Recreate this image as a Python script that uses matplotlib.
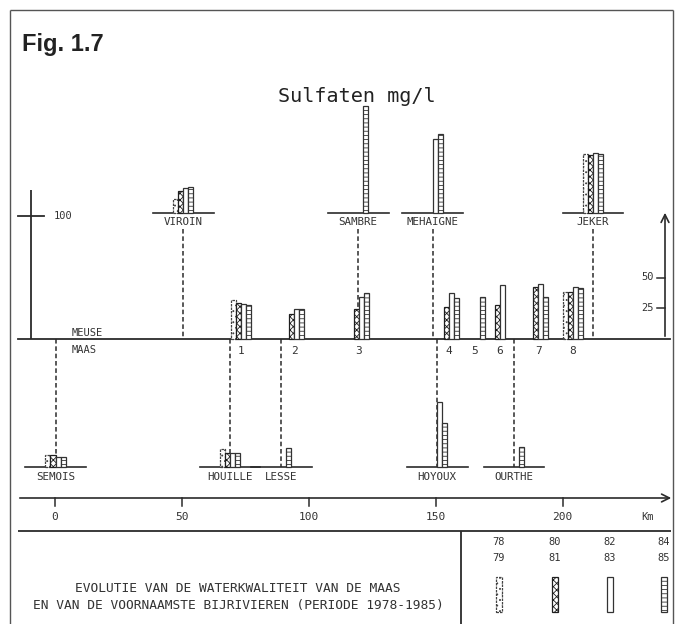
import numpy as np
import matplotlib
matplotlib.use("Agg")
import matplotlib.pyplot as plt

# --- data (sulfaten mg/l, periodes 78/79, 80/81, 82/83, 84/85; nan = geen meting) ---
PERIOD_TOP = ["78", "80", "82", "84"]
PERIOD_BOT = ["79", "81", "83", "85"]

MEUSE_ST = ["1", "2", "3", "4", "5", "6", "7", "8"]
MEUSE_KM = [73.4, 94.3, 119.9, 155.3, 165.6, 175.4, 190.4, 204.1]
MEUSE_VAL = [
    [31.7, 29.3, 28.5, 27.6],
    [np.nan, 20.3, 24.4, 24.4],
    [np.nan, 24.4, 34.0, 37.4],
    [np.nan, 26.0, 37.6, 33.3],
    [np.nan, np.nan, np.nan, 34.4],
    [np.nan, 27.6, 43.9, np.nan],
    [np.nan, 42.5, 44.7, 34.4],
    [38.2, 38.2, 42.3, 41.5],
]

UP_NAMES = ["VIROIN", "SAMBRE", "MEHAIGNE", "JEKER"]
UP_KM = [50.6, 119.5, 149.0, 212.0]
UP_VAL = [
    [11.0, 17.5, 19.9, 20.7],
    [np.nan, np.nan, np.nan, 86.6],
    [np.nan, np.nan, 59.5, 63.6],
    [47.6, 46.7, 48.1, 47.6],
]

LOW_NAMES = ["SEMOIS", "HOUILLE", "LESSE", "HOYOUX", "OURTHE"]
LOW_KM = [0.4, 69.1, 89.2, 150.6, 180.9]
LOW_VAL = [
    [9.8, 9.8, 8.4, 7.9],
    [14.4, 11.6, 11.6, 11.6],
    [np.nan, np.nan, np.nan, 15.2],
    [np.nan, np.nan, 53.1, 35.5],
    [np.nan, np.nan, np.nan, 16.0],
]

KM_TICKS = [0, 50, 100, 150, 200]
RIGHT_TICKS = [25, 50]

# --- layout: pixel <-> data (km, mg/l) ---
X0, PX_KM = 54.5, 2.54
Y0, PX_MG = 339.0, 1.23


def kx(px):
    return (px - X0) / PX_KM


def my(py):
    return (Y0 - py) / PX_MG


UP_BASE = my(212.5)
LOW_BASE = my(467)
BW = 2.0
INK = "#2b2b2b"
TXT = "#333333"
MONO = "DejaVu Sans Mono"

plt.rcParams["hatch.linewidth"] = 0.6
STYLES = [
    dict(hatch="...", edgecolor="#444444", linestyle=(0, (2, 0.8))),
    dict(hatch="xxxxx", edgecolor="#1e1e1e"),
    dict(hatch="", edgecolor="#333333"),
    dict(hatch="----", edgecolor="#333333"),
]

fig = plt.figure(figsize=(6.84, 6.24), dpi=100)
ax = fig.add_axes([0, 0, 1, 1])
ax.set_xlim(kx(0), kx(684))
ax.set_ylim(my(624), my(0))
ax.axis("off")


def seg(x0, y0, x1, y1, **kw):
    kw.setdefault("color", INK)
    kw.setdefault("lw", 1.2)
    ax.plot([kx(x0), kx(x1)], [my(y0), my(y1)], solid_capstyle="butt", **kw)


def group(x, vals, base):
    for i, v in enumerate(vals):
        if np.isnan(v):
            continue
        ax.bar(x + (i - 1.5) * BW, v, width=BW, bottom=base, facecolor="white",
               linewidth=0.9, zorder=3, **STYLES[i])


dash = dict(color=INK, lw=1.1, linestyle=(0, (3, 1.8)), zorder=1)

# frame
seg(10, 10, 673, 10, lw=1.0, color="#555555")
seg(10, 10, 10, 624, lw=1.0, color="#555555")
seg(673, 10, 673, 624, lw=1.0, color="#555555")

ax.text(kx(22), my(45), "Fig. 1.7", fontsize=17, fontweight="bold",
        family="Liberation Sans", color="#222222", va="center", ha="left")
ax.text(kx(357), my(97), "Sulfaten mg/l", fontsize=14.5, family=MONO,
        color="#222222", va="center", ha="center")

# Meuse baseline + left axis
ax.plot([kx(18), kx(670)], [0, 0], color=INK, lw=1.3)
seg(31, 190, 31, 339, lw=1.3)
ax.plot([kx(18), kx(44)], [100, 100], color=INK, lw=1.3)
ax.text(kx(54), 100, "100", fontsize=7.5, family=MONO, color=TXT,
        va="center", ha="left")
ax.text(kx(72), my(333), "MEUSE", fontsize=7.5, family=MONO, color=TXT, va="center")
ax.text(kx(72), my(350), "MAAS", fontsize=7.5, family=MONO, color=TXT, va="center")

# right axis
ax.annotate("", xy=(kx(665), my(210)), xytext=(kx(665), 0),
            arrowprops=dict(arrowstyle="->", lw=1.2, color=INK, mutation_scale=14))
for t in RIGHT_TICKS:
    ax.plot([kx(657), kx(665)], [t, t], color=INK, lw=1.1)
    ax.text(kx(654), t, str(t), fontsize=7.5, family=MONO, color=TXT,
            va="center", ha="right")

# Meuse stations
for name, x, vals in zip(MEUSE_ST, MEUSE_KM, MEUSE_VAL):
    group(x, vals, 0)
    ax.text(x, my(351), name, fontsize=8, family=MONO, color=TXT,
            va="center", ha="center")

# upper tributaries
for name, x, vals in zip(UP_NAMES, UP_KM, UP_VAL):
    ax.plot([x - 12, x + 12], [UP_BASE, UP_BASE], color=INK, lw=1.2)
    ax.text(x, my(222), name, fontsize=7.8, family=MONO, color=TXT,
            va="center", ha="center")
    ax.plot([x, x], [my(229), 0], **dash)
    group(x, vals, UP_BASE)

# lower tributaries
for name, x, vals in zip(LOW_NAMES, LOW_KM, LOW_VAL):
    ax.plot([x - 12, x + 12], [LOW_BASE, LOW_BASE], color=INK, lw=1.2)
    ax.text(x, my(477), name, fontsize=7.8, family=MONO, color=TXT,
            va="center", ha="center")
    ax.plot([x, x], [0, LOW_BASE], **dash)
    group(x, vals, LOW_BASE)

# km axis
ax.annotate("", xy=(kx(674), my(498)), xytext=(kx(17), my(498)),
            arrowprops=dict(arrowstyle="->", lw=1.2, color=INK, mutation_scale=14))
for t in KM_TICKS:
    ax.plot([t, t], [my(498), my(506)], color=INK, lw=1.1)
    ax.text(t, my(517), str(t), fontsize=8, family=MONO, color=TXT,
            va="center", ha="center")
ax.text(kx(648), my(517), "Km", fontsize=7.5, family=MONO, color=TXT,
        va="center", ha="center")

# bottom box
seg(18, 531, 671, 531, lw=1.3)
seg(461, 531, 461, 624, lw=1.3)
ax.text(kx(238), my(588), "EVOLUTIE VAN DE WATERKWALITEIT VAN DE MAAS",
        fontsize=9.3, family=MONO, color=TXT, va="center", ha="center")
ax.text(kx(238), my(606), "EN VAN DE VOORNAAMSTE BIJRIVIEREN (PERIODE 1978-1985)",
        fontsize=9.3, family=MONO, color=TXT, va="center", ha="center")

LEG_X = [499, 555, 610, 664]
for i, (a, b) in enumerate(zip(PERIOD_TOP, PERIOD_BOT)):
    ax.text(kx(LEG_X[i]), my(542), a, fontsize=7.5, family=MONO, color=TXT,
            va="center", ha="center")
    ax.text(kx(LEG_X[i]), my(558), b, fontsize=7.5, family=MONO, color=TXT,
            va="center", ha="center")
    ax.bar(kx(LEG_X[i]), 35 / PX_MG, width=6 / PX_KM, bottom=my(612),
           facecolor="white", linewidth=0.9, zorder=3, **STYLES[i])

fig.savefig("out.png", dpi=100)
